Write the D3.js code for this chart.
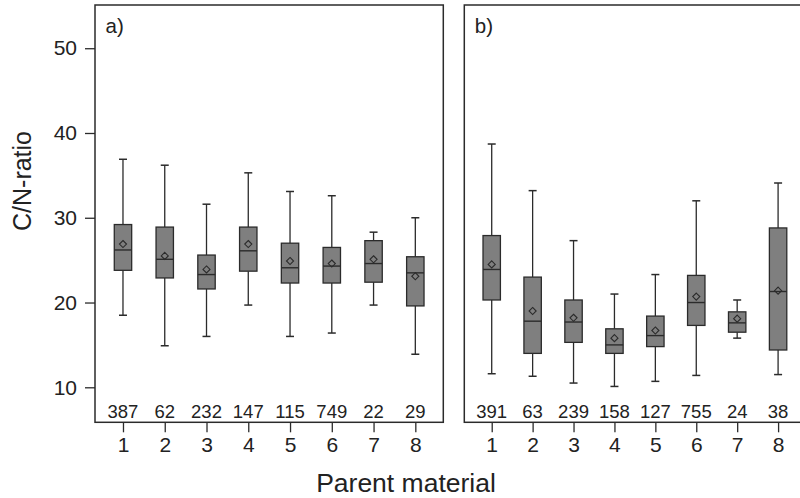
<!DOCTYPE html>
<html>
<head>
<meta charset="utf-8">
<script src="https://cdn.jsdelivr.net/npm/d3@7/dist/d3.min.js"></script>
<style>
  body { margin: 0; background: #fff; }
  svg { display: block; font-family: "Liberation Sans", Arial, sans-serif; }
</style>
</head>
<body>
<svg id="chart" width="800" height="498"></svg>
<script>
// Parent material classes
const categories = [1, 2, 3, 4, 5, 6, 7, 8];
const yTicks = [10, 20, 30, 40, 50];

// Panel a) — sample counts and box statistics
const countsA = [387, 62, 232, 147, 115, 749, 22, 29];
const lowA    = [18.5, 14.9, 16.0, 19.7, 16.0, 16.4, 19.7, 13.9];
const q1A     = [23.8, 22.9, 21.6, 23.7, 22.3, 22.3, 22.4, 19.6];
const medA    = [26.2, 25.1, 23.3, 26.1, 24.1, 24.3, 24.6, 23.5];
const q3A     = [29.2, 28.9, 25.6, 28.9, 27.0, 26.5, 27.3, 25.4];
const highA   = [36.9, 36.2, 31.6, 35.3, 33.1, 32.6, 28.3, 30.0];
const meanA   = [26.9, 25.5, 23.9, 26.9, 24.9, 24.6, 25.1, 23.1];

// Panel b) — sample counts and box statistics
const countsB = [391, 63, 239, 158, 127, 755, 24, 38];
const lowB    = [11.6, 11.3, 10.5, 10.1, 10.7, 11.4, 15.8, 11.5];
const q1B     = [20.3, 14.0, 15.3, 14.0, 14.8, 17.3, 16.5, 14.4];
const medB    = [23.9, 17.8, 17.7, 15.0, 16.1, 20.0, 17.6, 21.3];
const q3B     = [27.9, 23.0, 20.3, 16.9, 18.4, 23.2, 18.9, 28.8];
const highB   = [38.7, 33.2, 27.3, 21.0, 23.3, 32.0, 20.3, 34.1];
const meanB   = [24.5, 19.0, 18.2, 15.8, 16.7, 20.7, 18.1, 21.4];

const svg = d3.select("#chart");
const frameColor = "#2b2b2b";
const boxFill = "#7f7f7f";
const plotTop = 5, plotBottom = 422.3;

const y = d3.scaleLinear().domain([5.87, 55.1]).range([plotBottom, plotTop]);

const panels = [
  { label: "a)", x0: 95, x1: 443.3, counts: countsA, low: lowA, q1: q1A, med: medA, q3: q3A, high: highA, mean: meanA },
  { label: "b)", x0: 464.3, x1: 805.5, counts: countsB, low: lowB, q1: q1B, med: medB, q3: q3B, high: highB, mean: meanB }
];

panels.forEach((p, pi) => {
  const x = d3.scaleLinear().domain([0.33, 8.67]).range([p.x0, p.x1]);
  const g = svg.append("g");
  const boxW = 17.4, capW = 8;

  const rows = categories.map((c, i) => ({
    c, n: p.counts[i], low: p.low[i], q1: p.q1[i], med: p.med[i],
    q3: p.q3[i], high: p.high[i], mean: p.mean[i]
  }));

  const item = g.selectAll("g.box").data(rows).join("g").attr("class", "box");

  // whiskers
  item.append("line")
    .attr("x1", d => x(d.c)).attr("x2", d => x(d.c))
    .attr("y1", d => y(d.high)).attr("y2", d => y(d.q3))
    .attr("stroke", frameColor).attr("stroke-width", 1.3);
  item.append("line")
    .attr("x1", d => x(d.c)).attr("x2", d => x(d.c))
    .attr("y1", d => y(d.q1)).attr("y2", d => y(d.low))
    .attr("stroke", frameColor).attr("stroke-width", 1.3);
  // whisker caps
  item.append("line")
    .attr("x1", d => x(d.c) - capW / 2).attr("x2", d => x(d.c) + capW / 2)
    .attr("y1", d => y(d.high)).attr("y2", d => y(d.high))
    .attr("stroke", frameColor).attr("stroke-width", 1.5);
  item.append("line")
    .attr("x1", d => x(d.c) - capW / 2).attr("x2", d => x(d.c) + capW / 2)
    .attr("y1", d => y(d.low)).attr("y2", d => y(d.low))
    .attr("stroke", frameColor).attr("stroke-width", 1.5);
  // interquartile box
  item.append("rect")
    .attr("x", d => x(d.c) - boxW / 2).attr("width", boxW)
    .attr("y", d => y(d.q3)).attr("height", d => y(d.q1) - y(d.q3))
    .attr("fill", boxFill).attr("stroke", frameColor).attr("stroke-width", 1.3);
  // median
  item.append("line")
    .attr("x1", d => x(d.c) - boxW / 2).attr("x2", d => x(d.c) + boxW / 2)
    .attr("y1", d => y(d.med)).attr("y2", d => y(d.med))
    .attr("stroke", frameColor).attr("stroke-width", 1.4);
  // mean diamond
  item.append("path")
    .attr("d", d3.symbol(d3.symbolDiamond2, 32))
    .attr("transform", d => `translate(${x(d.c)},${y(d.mean)})`)
    .attr("fill", "none").attr("stroke", frameColor).attr("stroke-width", 1.1);
  // sample counts
  item.append("text")
    .attr("x", d => x(d.c)).attr("y", 418.3)
    .attr("text-anchor", "middle").attr("font-size", 18.5).attr("fill", "#222")
    .text(d => d.n);

  // panel frame
  g.append("rect")
    .attr("x", p.x0).attr("y", plotTop)
    .attr("width", p.x1 - p.x0).attr("height", plotBottom - plotTop)
    .attr("fill", "none").attr("stroke", frameColor).attr("stroke-width", 1.5);

  // panel label
  g.append("text")
    .attr("x", p.x0 + 10.5).attr("y", 33)
    .attr("font-size", 20.5).attr("fill", "#222")
    .text(p.label);

  // x axis
  const xAxis = d3.axisBottom(x).tickValues(categories).tickSize(10).tickPadding(5)
    .tickFormat(d3.format("d"));
  const ax = svg.append("g").attr("transform", `translate(0,${plotBottom})`).call(xAxis);
  ax.select(".domain").remove();
  ax.selectAll(".tick line").attr("stroke", frameColor).attr("stroke-width", 1.3);
  ax.selectAll(".tick text").attr("font-size", 21).attr("fill", "#222")
    .attr("font-family", "Liberation Sans, Arial, sans-serif");

  if (pi === 0) {
    const yAxis = d3.axisLeft(y).tickValues(yTicks).tickSize(10).tickPadding(8);
    const ay = svg.append("g").attr("transform", `translate(${p.x0},0)`).call(yAxis);
    ay.select(".domain").remove();
    ay.selectAll(".tick line").attr("stroke", frameColor).attr("stroke-width", 1.3);
    ay.selectAll(".tick text").attr("font-size", 21).attr("fill", "#222")
      .attr("font-family", "Liberation Sans, Arial, sans-serif");
  }
});

// axis titles
svg.append("text")
  .attr("x", 406).attr("y", 491.5)
  .attr("text-anchor", "middle").attr("font-size", 26.5).attr("fill", "#222")
  .text("Parent material");

svg.append("text")
  .attr("transform", "translate(31,181) rotate(-90)")
  .attr("text-anchor", "middle").attr("font-size", 25).attr("fill", "#222")
  .text("C/N-ratio");
</script>
</body>
</html>
